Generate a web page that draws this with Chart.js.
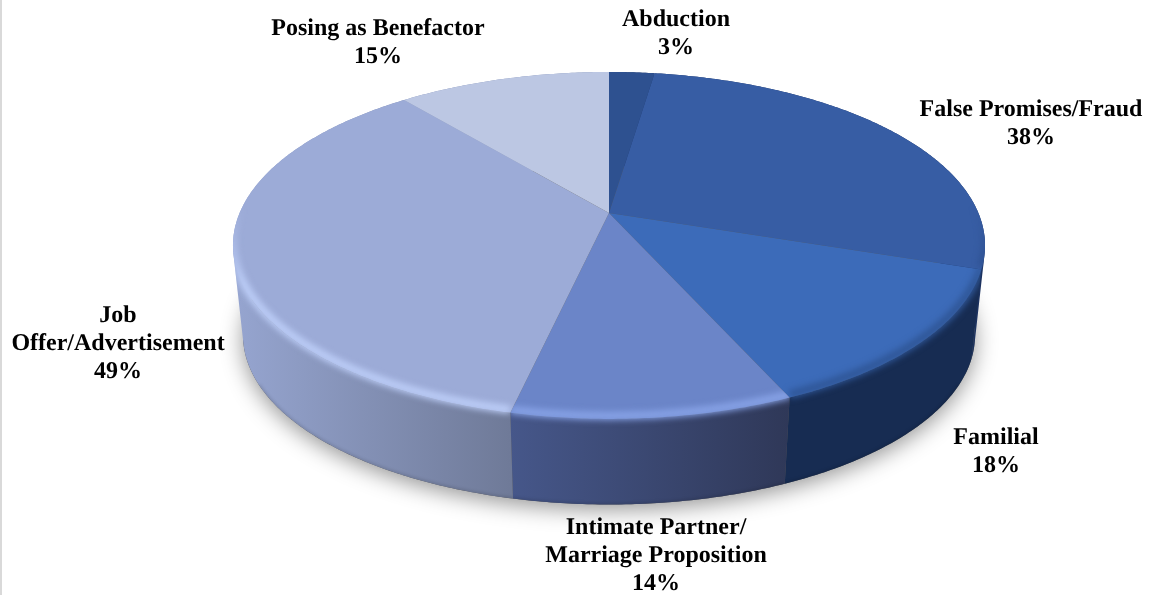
<!DOCTYPE html>
<html lang="en">
<head>
  <meta charset="UTF-8" />
  <title>Recruitment Methods</title>
  <script src="https://cdnjs.cloudflare.com/ajax/libs/Chart.js/4.4.1/chart.umd.js"></script>
  <style>
    html, body { margin: 0; padding: 0; background: #fff; overflow: hidden; }
    #wrap { position: relative; width: 1149px; height: 595px; }
    #wrap::before { content: ''; position: absolute; left: 0; top: 0; width: 2px; height: 100%; background: #d9d9d9; z-index: 2; }
  </style>
</head>
<body>
  <div id="wrap"><canvas id="pieChart" width="1149" height="595"></canvas></div>

  <script>
    const categories = ['Abduction', 'False Promises/Fraud', 'Familial', 'Intimate Partner/ Marriage Proposition', 'Job Offer/Advertisement', 'Posing as Benefactor']
    const percents = [3.2, 38.1, 18.1, 13.9, 48.7, 15]
    const topColors = ['#2e5190', '#375da4', '#3c6bb9', '#6b85c8', '#9cabd7', '#bcc7e3']
    const sideColors = [['#1d3564', '#1d3564'], ['#1c3260', '#1c3260'], ['#172c52', '#172c52'], ['#46578a', '#2f3858'], ['#96a5d0', '#6f7a98'], ['#8290b5', '#8290b5']]
    const rimColors = ['#2e5190', '#2c4d8c', '#2f5697', '#87a2e6', '#bccdf7', '#bcc7e3']
    const labelLines = [['Abduction', '3%'], ['False Promises/Fraud', '38%'], ['Familial', '18%'], ['Intimate Partner/', 'Marriage Proposition', '14%'], ['Job', 'Offer/Advertisement', '49%'], ['Posing as Benefactor', '15%']]
    const labelCenters = [[676, 20], [1031, 110], [996, 438], [656, 528], [118, 316], [378, 29]]

    // tilted disc, the far side is squeezed like in a real 3D view
    const topFace = { cx: 609, cy: 213, a: 369.4, b: 167.4, k: 0.187 }
    const bottomFace = { cx: 609, cy: 304, a: 359.5, b: 163, k: 0.187 }

    function project(face, t) {
      const w = 1 - face.k * Math.sin(t)
      return [face.cx + face.a * Math.cos(t) / w, face.cy + face.b * Math.sin(t) / w]
    }

    function quad(path, pts) {
      let area = 0
      pts.forEach((p, i) => {
        const q = pts[(i + 1) % pts.length]
        area += p[0] * q[1] - q[0] * p[1]
      })
      const list = area < 0 ? pts.slice().reverse() : pts
      path.moveTo(list[0][0], list[0][1])
      list.slice(1).forEach(p => path.lineTo(p[0], p[1]))
      path.closePath()
    }

    function anglesBetween(start, end) {
      const steps = Math.max(2, Math.ceil((end - start) / 0.01))
      const out = []
      for (let i = 0; i <= steps; i++) out.push(start + (end - start) * i / steps)
      return out
    }

    function sidePath(ts) {
      const side = new Path2D()
      for (let n = 0; n < ts.length - 1; n++) {
        quad(side, [project(topFace, ts[n]), project(topFace, ts[n + 1]), project(bottomFace, ts[n + 1]), project(bottomFace, ts[n])])
      }
      return side
    }

    function topPath(ts) {
      const top = new Path2D()
      top.moveTo(topFace.cx, topFace.cy)
      ts.forEach(t => {
        const p = project(topFace, t)
        top.lineTo(p[0], p[1])
      })
      top.closePath()
      return top
    }

    const disc3d = {
      id: 'disc3d',
      beforeDatasetsDraw(chart) {
        const ctx = chart.ctx
        const arcs = chart.getDatasetMeta(0).data

        // ground shadow
        ctx.save()
        ctx.shadowColor = 'rgba(0,0,0,0.42)'
        ctx.shadowBlur = 22
        ctx.shadowOffsetY = 5
        ctx.fillStyle = '#555'
        ctx.beginPath()
        anglesBetween(0, Math.PI * 2).forEach(t => {
          const p = project(bottomFace, t)
          ctx.lineTo(p[0], p[1])
        })
        ctx.closePath()
        ctx.fill()
        ctx.restore()

        // side walls first, all the tops go over them
        arcs.forEach((arc, i) => {
          const ts = anglesBetween(arc.startAngle, arc.endAngle)
          const xs = ts.filter(t => Math.sin(t) > 0.1).map(t => project(topFace, t)[0])
          const x0 = xs.length ? Math.min(...xs) : 0
          const x1 = xs.length ? Math.max(...xs) : 1
          const grad = ctx.createLinearGradient(x0, 0, x1, 0)
          grad.addColorStop(0, sideColors[i][0])
          grad.addColorStop(1, sideColors[i][1])
          const side = sidePath(ts)
          ctx.fillStyle = grad
          ctx.fill(side)

          // darker lower edge of the wall, only along the front
          ctx.save()
          ctx.clip(side)
          ctx.filter = 'blur(1.5px)'
          ctx.strokeStyle = 'rgba(0,0,0,0.13)'
          ctx.lineWidth = 3
          ctx.beginPath()
          ts.filter(t => Math.sin(t) > 0.45).forEach(t => {
            const p = project(bottomFace, t)
            ctx.lineTo(p[0], p[1])
          })
          ctx.stroke()
          ctx.restore()
        })

        arcs.forEach(arc => {
          ctx.fillStyle = arc.options.backgroundColor
          ctx.fill(topPath(anglesBetween(arc.startAngle, arc.endAngle)))
        })

        // bevel along the front rim, kept inside each slice
        arcs.forEach((arc, i) => {
          const ts = anglesBetween(arc.startAngle, arc.endAngle)
          const region = new Path2D()
          region.addPath(topPath(ts))
          region.addPath(sidePath(ts))
          const fade = ctx.createLinearGradient(0, 205, 0, 285)
          fade.addColorStop(0, rimColors[i] + '00')
          fade.addColorStop(1, rimColors[i] + 'ff')
          ctx.save()
          ctx.clip(region)
          ctx.filter = 'blur(3px)'
          ctx.strokeStyle = fade
          ctx.lineWidth = 8
          ctx.beginPath()
          ts.forEach(t => {
            const p = project(topFace, t)
            ctx.lineTo(p[0], p[1] - 3)
          })
          ctx.stroke()
          ctx.restore()
        })

        return false
      },
      afterDraw(chart) {
        const ctx = chart.ctx
        ctx.save()
        ctx.fillStyle = '#000'
        ctx.font = 'bold 24px "Liberation Serif"'
        ctx.textRendering = 'geometricPrecision'
        ctx.textAlign = 'center'
        ctx.textBaseline = 'middle'
        labelLines.forEach((lines, i) => {
          lines.forEach((line, n) => {
            ctx.fillText(line, labelCenters[i][0], labelCenters[i][1] + n * 28)
          })
        })
        ctx.restore()
      }
    }

    new Chart(document.getElementById('pieChart'), {
      type: 'pie',
      data: {
        labels: categories,
        datasets: [{ data: percents, backgroundColor: topColors, borderWidth: 0 }]
      },
      options: {
        responsive: false,
        animation: false,
        plugins: { legend: { display: false }, tooltip: { enabled: false } }
      },
      plugins: [disc3d]
    })
  </script>
</body>
</html>
